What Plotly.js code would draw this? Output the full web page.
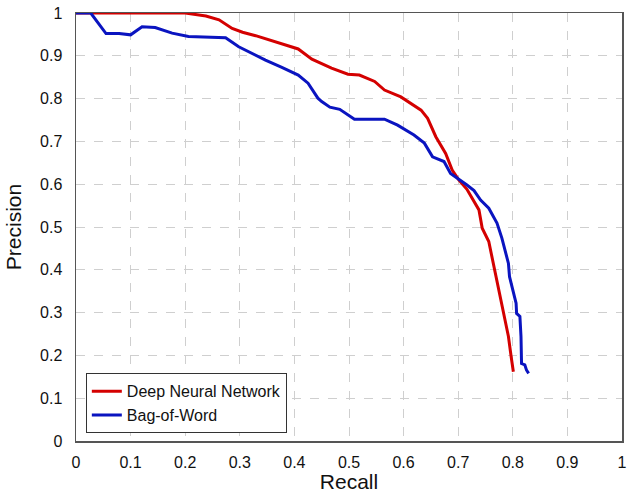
<!DOCTYPE html>
<html>
<head>
<meta charset="utf-8">
<script src="https://cdn.plot.ly/plotly-3.0.1.min.js"></script>
<style>html,body{margin:0;padding:0;background:#fff}#chart{width:627px;height:493px}</style>
</head>
<body>
<div id="chart"></div>
<script>
const dnnRecall = [0, 0.2, 0.238, 0.262, 0.286, 0.305, 0.329, 0.359, 0.383, 0.407, 0.432, 0.468, 0.498, 0.519, 0.547, 0.559, 0.565, 0.595, 0.632, 0.644, 0.659, 0.677, 0.689, 0.701, 0.716, 0.738, 0.744, 0.756, 0.765, 0.771, 0.775, 0.78, 0.786, 0.792, 0.797, 0.801];
const dnnPrecision = [1, 1, 0.993, 0.984, 0.964, 0.955, 0.947, 0.935, 0.927, 0.916, 0.892, 0.871, 0.857, 0.855, 0.840, 0.826, 0.820, 0.804, 0.773, 0.754, 0.711, 0.672, 0.633, 0.610, 0.588, 0.540, 0.497, 0.466, 0.411, 0.376, 0.349, 0.318, 0.283, 0.244, 0.197, 0.162];

const bowRecall = [0, 0.027, 0.055, 0.079, 0.1, 0.121, 0.145, 0.176, 0.206, 0.236, 0.274, 0.298, 0.347, 0.377, 0.407, 0.425, 0.443, 0.45, 0.465, 0.483, 0.510, 0.565, 0.589, 0.619, 0.638, 0.653, 0.674, 0.686, 0.704, 0.716, 0.729, 0.741, 0.756, 0.771, 0.78, 0.786, 0.792, 0.794, 0.801, 0.806, 0.807, 0.813, 0.815, 0.816, 0.822, 0.825, 0.829];
const bowPrecision = [1, 1, 0.952, 0.952, 0.949, 0.968, 0.966, 0.953, 0.945, 0.943, 0.942, 0.921, 0.890, 0.873, 0.855, 0.836, 0.801, 0.793, 0.780, 0.775, 0.752, 0.752, 0.738, 0.715, 0.696, 0.664, 0.653, 0.625, 0.610, 0.598, 0.585, 0.563, 0.544, 0.509, 0.474, 0.442, 0.415, 0.384, 0.345, 0.322, 0.298, 0.291, 0.244, 0.181, 0.178, 0.166, 0.158];

const seriesNames = ["Deep Neural Network", "Bag-of-Word"];
const xTitle = "Recall";
const yTitle = "Precision";

const traces = [
  {x: dnnRecall, y: dnnPrecision, name: seriesNames[0], mode: "lines",
   line: {color: "#d40000", width: 3}},
  {x: bowRecall, y: bowPrecision, name: seriesNames[1], mode: "lines",
   line: {color: "#0a14c0", width: 3}}
];

const axisCommon = {
  range: [0, 1], dtick: 0.1, tick0: 0,
  showline: true, mirror: true, linecolor: "#555", linewidth: 1.5,
  showgrid: true, gridcolor: "#cfcfcf", griddash: "dash", gridwidth: 1,
  zeroline: false, ticks: "", ticklabeloverflow: "allow",
  tickfont: {family: "Liberation Sans, Arial, sans-serif", size: 16, color: "#111"}
};

const layout = {
  width: 627, height: 493,
  margin: {l: 76, r: 5, t: 13, b: 52},
  paper_bgcolor: "#fff", plot_bgcolor: "#fff",
  font: {family: "Liberation Sans, Arial, sans-serif", color: "#111"},
  showlegend: true,
  legend: {x: 0.018, y: 0.018, xanchor: "left", yanchor: "bottom",
    bordercolor: "#333", borderwidth: 1, bgcolor: "#fff",
    font: {size: 16, family: "Liberation Sans, Arial, sans-serif", color: "#111"},
    tracegroupgap: 0, entrywidth: 175, entrywidthmode: "pixels"},
  xaxis: Object.assign({}, axisCommon, {
    title: {text: xTitle, font: {size: 21}, standoff: 6},
    ticklabelstandoff: 6
  }),
  yaxis: Object.assign({}, axisCommon, {
    title: {text: yTitle, font: {size: 21}, standoff: 12},
    ticklabelstandoff: 9
  })
};

Plotly.newPlot("chart", traces, layout, {displayModeBar: false, staticPlot: true});
</script>
</body>
</html>
